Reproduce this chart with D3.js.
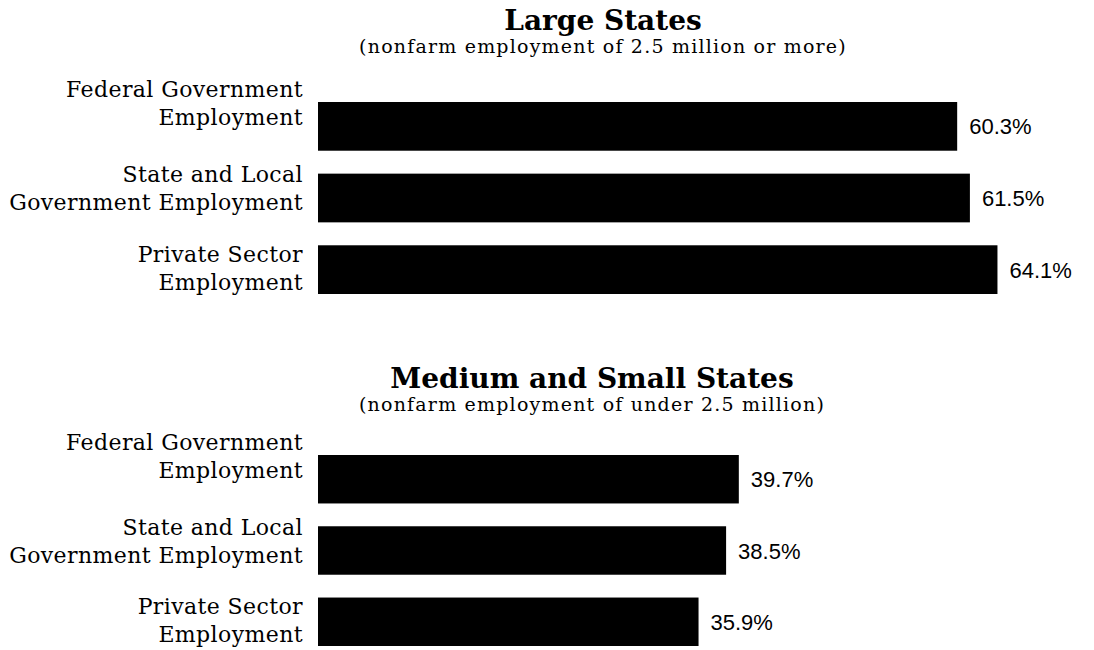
<!DOCTYPE html>
<html>
<head>
<meta charset="utf-8">
<script src="https://cdn.jsdelivr.net/npm/d3@7"></script>
<style>
  html, body { margin: 0; padding: 0; background: #fff; }
  svg { display: block; }
</style>
</head>
<body>
<svg id="chart" width="1094" height="650"></svg>
<script>
// Category labels (each split over two lines)
const categories = [
  ["Federal Government", "Employment"],
  ["State and Local", "Government Employment"],
  ["Private Sector", "Employment"]
];
// Share of employment, percent
const largeStates = [60.3, 61.5, 64.1];
const smallStates = [39.7, 38.5, 35.9];
const panelTitles = ["Large States", "Medium and Small States"];
const panelSubtitles = [
  "(nonfarm employment of 2.5 million or more)",
  "(nonfarm employment of under 2.5 million)"
];

const serif = "'DejaVu Serif', serif";
const sans = "'Liberation Sans', Arial, sans-serif";

const svg = d3.select("#chart");

// Shared horizontal scale so both panels are comparable
const x = d3.scaleLinear().domain([0, 100]).range([318, 1378]);

// Per-panel layout
const panels = [
  { values: largeStates, title: panelTitles[0], subtitle: panelSubtitles[0],
    cx: 603, titleY: 30, subY: 53, band: [102, 294] },
  { values: smallStates, title: panelTitles[1], subtitle: panelSubtitles[1],
    cx: 592, titleY: 388, subY: 411, band: [455, 646] }
];
// Baseline of the first label line relative to the bar centre
const labelOffsets = [-29, -16, -8];
const lineGap = 28;

panels.forEach(p => {
  const g = svg.append("g");
  const y = d3.scaleBand()
    .domain(d3.range(categories.length))
    .range(p.band)
    .paddingInner(0.32)
    .paddingOuter(0);

  g.append("text")
    .attr("x", p.cx).attr("y", p.titleY)
    .attr("text-anchor", "middle")
    .attr("font-family", serif).attr("font-weight", "bold")
    .attr("font-size", 28)
    .text(p.title);

  g.append("text")
    .attr("x", p.cx).attr("y", p.subY)
    .attr("text-anchor", "middle")
    .attr("font-family", serif)
    .attr("font-size", 19)
    .attr("letter-spacing", 1.2)
    .text(p.subtitle);

  g.selectAll("rect.bar")
    .data(p.values)
    .join("rect")
    .attr("class", "bar")
    .attr("x", x(0))
    .attr("y", (d, i) => y(i))
    .attr("width", d => x(d) - x(0))
    .attr("height", y.bandwidth())
    .attr("fill", "#000");

  g.selectAll("text.value")
    .data(p.values)
    .join("text")
    .attr("class", "value")
    .attr("x", d => x(d) + 12)
    .attr("y", (d, i) => y(i) + y.bandwidth() / 2 + 8)
    .attr("font-family", sans)
    .attr("font-size", 22)
    .text(d => d.toFixed(1) + "%");

  const labels = g.selectAll("text.cat")
    .data(categories)
    .join("text")
    .attr("class", "cat")
    .attr("text-anchor", "end")
    .attr("font-family", serif)
    .attr("font-size", 22)
    .attr("letter-spacing", 0.4)
    .attr("y", (d, i) => y(i) + y.bandwidth() / 2 + labelOffsets[i]);

  labels.selectAll("tspan")
    .data(d => d)
    .join("tspan")
    .attr("x", 303)
    .attr("dy", (d, j) => j === 0 ? 0 : lineGap)
    .text(d => d);
});
</script>
</body>
</html>
